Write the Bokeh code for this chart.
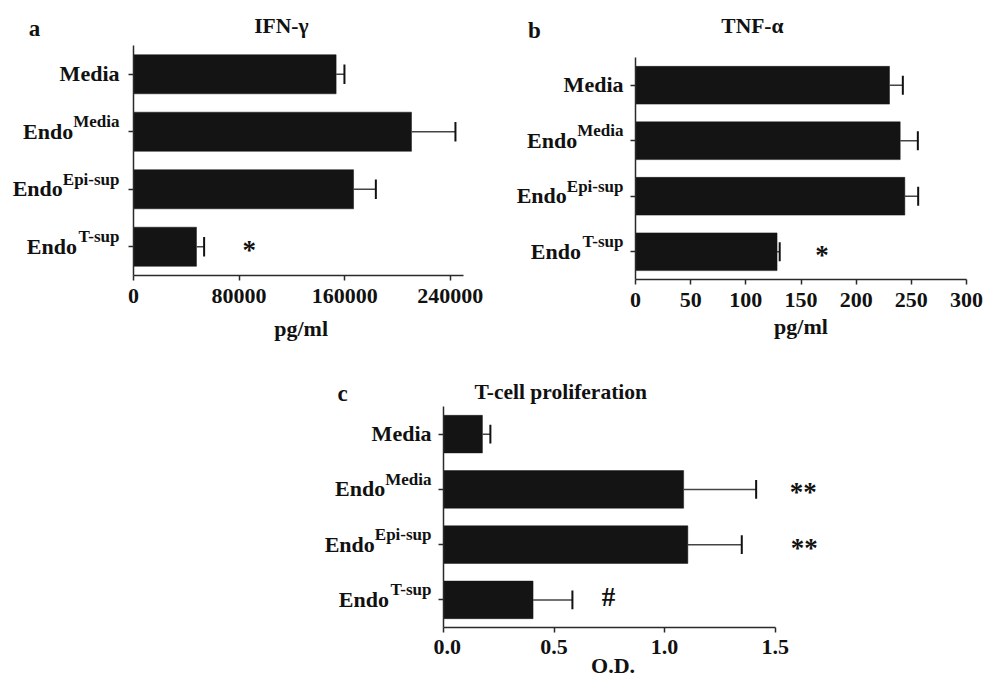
from bokeh.plotting import figure
from bokeh.layouts import column, row
from bokeh.models import (Range1d, FixedTicker, ColumnDataSource, Spacer, LinearAxis,
                          BasicTickFormatter, PrintfTickFormatter)
from bokeh.core.properties import value
from bokeh.embed import file_html
from bokeh.resources import INLINE

# ---------------- data ----------------
groups = ["Media", "Endo", "Endo", "Endo"]
group_sups = ["", "Media", "Epi-sup", "T-sup"]

ifn_vals = [153500, 210600, 166700, 47700]
ifn_errs = [6300, 33300, 16900, 5800]
ifn_ticks = [0, 80000, 160000, 240000]
ifn_mark_rows = [3]
ifn_marks = ["*"]
ifn_mark_x = [87600]

tnf_vals = [230.2, 239.9, 244.1, 128.3]
tnf_errs = [12.1, 16.0, 12.1, 2.4]
tnf_ticks = [0, 50, 100, 150, 200, 250, 300]
tnf_mark_rows = [3]
tnf_marks = ["*"]
tnf_mark_x = [169]

tcp_vals = [0.176, 1.086, 1.105, 0.405]
tcp_errs = [0.036, 0.328, 0.244, 0.178]
tcp_ticks = [0.0, 0.5, 1.0, 1.5]
tcp_mark_rows = [1, 2, 3]
tcp_marks = ["**", "**", "#"]
tcp_mark_x = [1.627, 1.632, 0.746]

# ---------------- style ----------------
FONT = "Liberation Serif"
BAR = "#141414"
TXT = "#111111"
WID = {'E': 0.667, 'n': 0.556, 'd': 0.556, 'o': 0.5, 'M': 0.944, 'e': 0.444, 'i': 0.278,
       'a': 0.5, 'p': 0.556, '-': 0.333, 's': 0.389, 'u': 0.556, 'T': 0.667}
MAIN_SIZE = 22
SUP_SIZE = 17
MAIN_DY = -0.5
SUP_DY = -10
MARK_DY = {"*": 3, "**": 3, "#": -3}
YAX_BORDER = 10


def text_width(s, size):
    return sum(WID.get(c, 0.5) for c in s) * size


def text_axis(p, side, x, text, size, standoff):
    ax = LinearAxis(ticker=FixedTicker(ticks=[x]), major_label_overrides={x: text},
                    axis_line_color=None, major_tick_line_color=None,
                    minor_tick_line_color=None, major_tick_out=0, major_tick_in=0,
                    major_label_standoff=standoff, major_label_text_font=FONT,
                    major_label_text_font_style="bold",
                    major_label_text_font_size=f"{size}px", major_label_text_color=TXT)
    p.add_layout(ax, side)


def base_fig(fw, fh, xr, yr, bl, bt, br, bb, axes=True):
    kw = {} if axes else dict(x_axis_location=None, y_axis_location=None)
    p = figure(frame_width=fw, frame_height=fh, min_border_left=bl, min_border_top=bt,
               min_border_right=br, min_border_bottom=bb, x_range=xr, y_range=yr,
               output_backend="svg", toolbar_location=None, tools="", **kw)
    p.outline_line_color = None
    p.grid.visible = False
    p.background_fill_color = "white"
    p.border_fill_color = "white"
    return p


def panel(vals, errs, ticks, x_end, axis_end, y_end, fmt, fw, fh, bt, br, bb, label_w, gap,
          letter, letter_pos, title, title_pos, xlabel, xlabel_pos, tick_standoff,
          mark_rows, marks, mark_x, mark_size):
    n = len(vals)
    ys = [n - 1 - i for i in range(n)]
    yr = Range1d(-0.5, y_end)

    # ---- main chart ----
    p = base_fig(fw, fh, Range1d(0, x_end), yr, YAX_BORDER, bt, br, bb)
    tops = [v + e for v, e in zip(vals, errs)]
    src = ColumnDataSource(dict(y=ys, v=vals, t=tops,
                                c0=[y - 0.17 for y in ys], c1=[y + 0.17 for y in ys]))
    p.hbar(y="y", left=0, right="v", height=0.68, source=src,
           fill_color=BAR, line_color=BAR, line_width=0.5)
    p.segment(x0="v", y0="y", x1="t", y1="y", source=src, line_color="#444444", line_width=1.5)
    p.segment(x0="t", y0="c0", x1="t", y1="c1", source=src, line_color="#111111", line_width=2)

    msrc = ColumnDataSource(dict(x=mark_x, y=[ys[r] for r in mark_rows], t=marks,
                                 dy=[MARK_DY[m] for m in marks]))
    p.text(x="x", y="y", text="t", source=msrc, text_font=value(FONT), text_font_style="bold",
           text_font_size=f"{mark_size}px", text_align="center", text_baseline="middle",
           text_color=TXT, y_offset="dy")

    for ax in (p.xaxis[0], p.yaxis[0]):
        ax.axis_line_color = "#2a2a2a"
        ax.axis_line_width = 1.5
        ax.major_tick_line_color = "#2a2a2a"
        ax.major_tick_line_width = 1.5
        ax.major_tick_out = 5
        ax.major_tick_in = 0
        ax.minor_tick_line_color = None
    xa = p.xaxis[0]
    xa.ticker = FixedTicker(ticks=ticks)
    xa.bounds = (0, axis_end)
    xa.formatter = fmt
    xa.major_label_text_font = FONT
    xa.major_label_text_font_style = "bold"
    xa.major_label_text_font_size = "22px"
    xa.major_label_text_color = TXT
    xa.major_label_standoff = tick_standoff
    ya = p.yaxis[0]
    ya.ticker = FixedTicker(ticks=ys)
    ya.bounds = (-0.5, n - 0.5)
    ya.major_label_standoff = 0
    ya.major_label_overrides = {y: "" for y in ys}

    text_axis(p, "above", title_pos[0], title, 21.5, title_pos[1])
    text_axis(p, "below", xlabel_pos[0], xlabel, 22, xlabel_pos[1])

    # ---- category label column (shares the y range) ----
    q = base_fig(label_w, fh, Range1d(0, label_w), yr, 0, bt, 0, bb, axes=False)
    right = label_w + YAX_BORDER - gap
    lx, ly, lt, ls, ldy = [], [], [], [], []
    for i, (g, s) in enumerate(zip(groups, group_sups)):
        y = ys[i]
        if s:
            lx += [right, right - text_width(s, SUP_SIZE)]
            ly += [y, y]
            lt += [s, g]
            ls += [f"{SUP_SIZE}px", f"{MAIN_SIZE}px"]
            ldy += [SUP_DY, MAIN_DY]
        else:
            lx.append(right)
            ly.append(y)
            lt.append(g)
            ls.append(f"{MAIN_SIZE}px")
            ldy.append(MAIN_DY)
    lsrc = ColumnDataSource(dict(x=lx, y=ly, t=lt, s=ls, dy=ldy))
    q.text(x="x", y="y", text="t", source=lsrc, text_font=value(FONT),
           text_font_style="bold", text_font_size="s", text_align="right",
           text_baseline="middle", text_color=TXT, y_offset="dy")
    text_axis(q, "above", letter_pos[0], letter, 23, letter_pos[1])
    return q, p


la, pa = panel(ifn_vals, ifn_errs, ifn_ticks, 250000, 250000, 3.5,
               BasicTickFormatter(use_scientific=False),
               330, 230, 45, 37, 69, 123, 14,
               "a", (34, 5), "IFN-γ", (112000, 8), "pg/ml", (127000, 10), 8,
               ifn_mark_rows, ifn_marks, ifn_mark_x, 27)
lb, pb = panel(tnf_vals, tnf_errs, tnf_ticks, 300, 300, 3.716,
               BasicTickFormatter(use_scientific=False),
               331, 234, 45, 24, 65, 125, 12,
               "b", (34, 3), "TNF-α", (106, 8), "pg/ml", (150, 4), 8,
               tnf_mark_rows, tnf_marks, tnf_mark_x, 27)
lc, pc = panel(tcp_vals, tcp_errs, tcp_ticks, 1.8, 1.5, 3.5,
               PrintfTickFormatter(format="%.1f"),
               398, 221, 62, 10, 54, 133, 12,
               "c", (42, 1), "T-cell proliferation", (0.53, 3), "O.D.", (0.767, -4), 7,
               tcp_mark_rows, tcp_marks, tcp_mark_x, 27)

layout = column(row(la, pa, lb, pb), row(Spacer(width=300, height=10), lc, pc))

open("out.html", "w").write(file_html(layout, INLINE))
